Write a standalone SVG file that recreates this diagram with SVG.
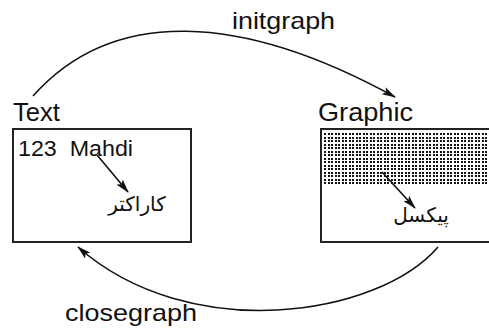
<svg xmlns="http://www.w3.org/2000/svg" width="489" height="329" viewBox="0 0 489 329">
  <style>
    .lbl { font-family: "Liberation Sans", Arial, sans-serif; fill: #111; }
    .fa { font-family: "DejaVu Sans", "Noto Sans", sans-serif; fill: #111; }
    .box { fill: #fff; stroke: #222; stroke-width: 2; }
    .edge { fill: none; stroke: #111; stroke-width: 1.6; }
    .px { fill: #111; shape-rendering: crispEdges; }
  </style>
  <defs>
    <marker id="arrow" viewBox="0 0 14 8" refX="13" refY="4" markerWidth="14" markerHeight="8" markerUnits="userSpaceOnUse" orient="auto">
      <path d="M0,0 L14,4 L0,8 L3,4 Z" fill="#111"/>
    </marker>
    <!-- 2x2 dot grid, average pitch 3.5px -->
    <pattern id="pixels" x="324" y="133" width="7" height="7" patternUnits="userSpaceOnUse">
      <rect class="px" x="0" y="0" width="2" height="2"/>
      <rect class="px" x="4" y="0" width="2" height="2"/>
      <rect class="px" x="0" y="4" width="2" height="2"/>
      <rect class="px" x="4" y="4" width="2" height="2"/>
    </pattern>
  </defs>
  <rect width="489" height="329" fill="#fff"/>

  <!-- text-mode screen -->
  <g id="text-node">
    <text class="lbl" x="13" y="121" font-size="25" textLength="47" lengthAdjust="spacingAndGlyphs">Text</text>
    <rect class="box" x="13" y="129" width="178" height="113"/>
    <text class="lbl" x="18" y="156" font-size="22" textLength="115" lengthAdjust="spacingAndGlyphs" xml:space="preserve">123  Mahdi</text>
    <line class="edge" x1="97" y1="155" x2="128" y2="192" marker-end="url(#arrow)"/>
    <text class="fa" x="137" y="211" font-size="20" text-anchor="middle" direction="rtl">کاراکتر</text>
  </g>

  <!-- graphics-mode screen -->
  <g id="graphic-node">
    <text class="lbl" x="318" y="121" font-size="25" textLength="95" lengthAdjust="spacingAndGlyphs">Graphic</text>
    <rect class="box" x="321" y="129" width="180" height="113"/>
    <rect x="324" y="133" width="166" height="53" fill="url(#pixels)"/>
    <line class="edge" x1="382" y1="172" x2="415" y2="208" marker-end="url(#arrow)"/>
    <text class="fa" x="421" y="222" font-size="20" text-anchor="middle" direction="rtl">پیکسل</text>
  </g>

  <g id="connectors">
    <path class="edge" d="M33,96 C113,6 242,13 395,97" marker-end="url(#arrow)"/>
    <text class="lbl" x="232" y="29" font-size="24" textLength="103" lengthAdjust="spacingAndGlyphs">initgraph</text>
    <path class="edge" d="M438,247 C378,317 189,345 78,247" marker-end="url(#arrow)"/>
    <text class="lbl" x="65" y="321" font-size="24" textLength="132" lengthAdjust="spacingAndGlyphs">closegraph</text>
  </g>
</svg>
